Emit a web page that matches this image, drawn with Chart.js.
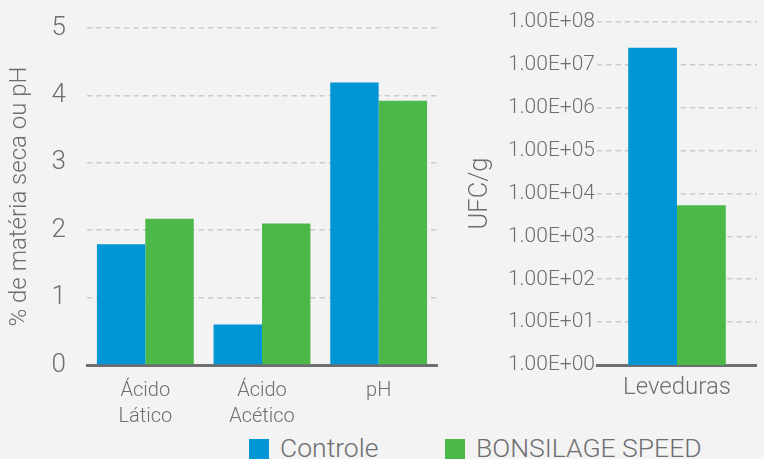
<!DOCTYPE html>
<html>
<head>
<meta charset="utf-8">
<script src="https://cdn.jsdelivr.net/npm/chart.js@4/dist/chart.umd.min.js"></script>
<style>
  html, body { margin: 0; padding: 0; background: #f3f3f3; width: 764px; height: 459px; overflow: hidden; }
  body { position: relative; font-family: 'Roboto', sans-serif; }
  #leftWrap { position: absolute; left: 0; top: 0; width: 445px; height: 430px; }
  #rightWrap { position: absolute; left: 440px; top: 0; width: 317px; height: 430px; }
  .legend { position: absolute; top: 432px; left: 0; width: 764px; height: 30px; color: #6d6e71; font-size: 26.5px; font-weight: 300; }
  .legend .item { position: absolute; top: 0; white-space: nowrap; }
  .legend .box { display: inline-block; width: 20px; height: 20px; vertical-align: -2px; margin-right: 11px; }
</style>
</head>
<body>
<div id="leftWrap"><canvas id="acidChart"></canvas></div>
<div id="rightWrap"><canvas id="yeastChart"></canvas></div>
<div class="legend" id="legend"></div>
<script>
const seriesNames = ['Controle', 'BONSILAGE SPEED'];
const seriesColors = ['#0096d6', '#4cb848'];

const acidCategories = [['Ácido', 'Lático'], ['Ácido', 'Acético'], 'pH'];
const acidControle = [1.79, 0.6, 4.19];
const acidSpeed = [2.17, 2.1, 3.92];

const yeastCategories = ['Leveduras'];
const yeastControle = [2.5e7];
const yeastSpeed = [5.3e3];
const yeastTicks = [1, 1e1, 1e2, 1e3, 1e4, 1e5, 1e6, 1e7, 1e8];

const textColor = '#6d6e71';
const gridColor = '#cbcbcb';
const axisColor = '#6d6e70';

Chart.defaults.font.family = "'Roboto', sans-serif";
Chart.defaults.font.weight = 300;
Chart.defaults.color = textColor;
Chart.defaults.maintainAspectRatio = false;
Chart.defaults.animation = false;

function makeDatasets(a, b) {
  return [
    { label: seriesNames[0], data: a, backgroundColor: seriesColors[0], borderWidth: 0 },
    { label: seriesNames[1], data: b, backgroundColor: seriesColors[1], borderWidth: 0 }
  ];
}

function xAxis(fontSize, pad) {
  return {
    grid: { display: false, drawTicks: false },
    border: { display: true, color: axisColor, width: 3 },
    ticks: { font: { size: fontSize, weight: 300, lineHeight: 1.3 }, padding: pad, maxRotation: 0, autoSkip: false },
    afterFit(scale) { scale.height = 65; }
  };
}

// transparent tick marks push the labels away from the plot without adding top padding
function yGrid(gap) {
  return {
    color: gridColor,
    lineWidth: 1.6,
    drawTicks: true,
    tickLength: gap,
    tickColor: 'rgba(0,0,0,0)'
  };
}

new Chart(document.getElementById('acidChart').getContext('2d'), {
  type: 'bar',
  data: { labels: acidCategories, datasets: makeDatasets(acidControle, acidSpeed) },
  options: {
    layout: { padding: { top: 28, right: 8, left: 0, bottom: 0 } },
    datasets: { bar: { barPercentage: 1, categoryPercentage: 0.83 } },
    scales: {
      x: xAxis(20, 13),
      y: {
        min: 0,
        max: 5,
        ticks: { stepSize: 1, font: { size: 26, weight: 300 }, padding: 1 },
        grid: yGrid(20),
        border: { display: false, dash: [5.3, 4] },
        title: { display: true, text: '% de matéria seca ou pH', font: { size: 24, weight: 300 }, padding: { top: 6, bottom: 0 } },
        afterFit(scale) { scale.width = 87; }
      }
    },
    plugins: { legend: { display: false }, tooltip: { enabled: false } }
  }
});

new Chart(document.getElementById('yeastChart').getContext('2d'), {
  type: 'bar',
  data: { labels: yeastCategories, datasets: makeDatasets(yeastControle, yeastSpeed) },
  options: {
    layout: { padding: { top: 22, right: 0, left: 0, bottom: 0 } },
    datasets: { bar: { barPercentage: 1, categoryPercentage: 0.61 } },
    scales: {
      x: xAxis(24, 7),
      y: {
        type: 'logarithmic',
        min: 1,
        max: 1e8,
        afterBuildTicks(scale) { scale.ticks = yeastTicks.map((v) => ({ value: v })); },
        ticks: {
          font: { size: 21, weight: 300 },
          padding: 2,
          callback(value) {
            const exp = Math.round(Math.log10(value));
            return '1.00E+' + String(exp).padStart(2, '0');
          }
        },
        grid: Object.assign(yGrid(0), { drawTicks: false }),
        border: { display: false, dash: [5.3, 4] },
        title: { display: true, text: 'UFC/g', font: { size: 25.5, weight: 300 }, padding: { top: 25, bottom: 0 } },
        afterFit(scale) { scale.width = 157; }
      }
    },
    plugins: { legend: { display: false }, tooltip: { enabled: false } }
  }
});

const legendEl = document.getElementById('legend');
const legendLefts = [249, 445];
seriesNames.forEach((name, i) => {
  const item = document.createElement('span');
  item.className = 'item';
  item.style.left = legendLefts[i] + 'px';
  const box = document.createElement('span');
  box.className = 'box';
  box.style.background = seriesColors[i];
  item.appendChild(box);
  item.appendChild(document.createTextNode(name));
  legendEl.appendChild(item);
});
</script>
</body>
</html>
